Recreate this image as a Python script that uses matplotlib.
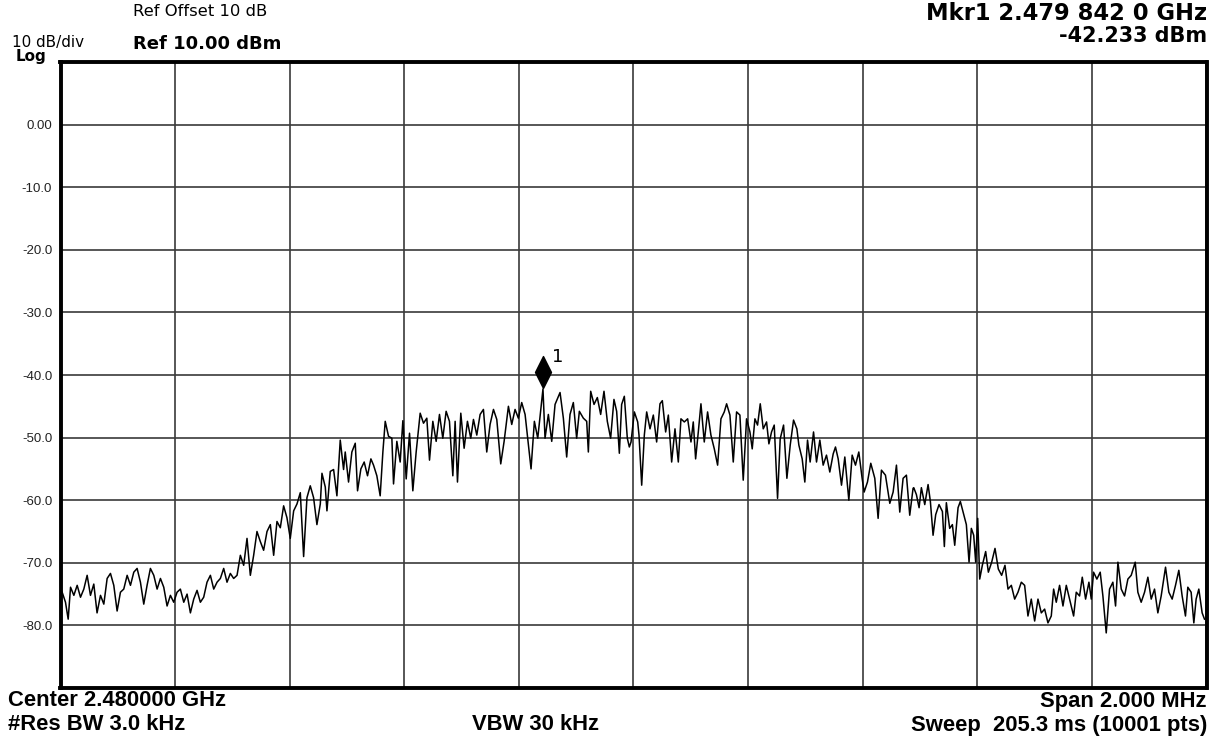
import numpy as np
import matplotlib
matplotlib.use("Agg")
import matplotlib.pyplot as plt
from matplotlib import font_manager
from matplotlib.path import Path
from matplotlib.transforms import offset_copy

# ---------------- data ----------------
center_ghz = 2.480
span_mhz = 2.0
ref_level = 10.0
db_per_div = 10.0

# sweep section 1 : offsets from centre in kHz, level in dBm
sec1_khz = [-997.1,-991.3,-986.6,-982.5,-976.7,-970.9,-965.1,-959.3,-953.5,-947.7,
            -941.9,-936.2,-930.2,-924.4,-918.6,-912.8,-907.0,-901.2,-895.4,-889.6,
            -883.7,-877.9,-872.1,-866.3,-860.5,-854.7,-848.9,-843.1,-837.2,-831.4,
            -825.6,-819.8,-814.0,-808.2,-802.4,-796.6,-790.8,-784.9,-779.1,-773.3,
            -767.5,-761.7,-755.9,-750.1,-744.3,-738.4,-732.6,-726.8,-721.0,-715.2,
            -709.4,-703.6,-697.8,-691.9,-686.1,-680.3,-674.5,-668.7,-662.9,-657.1,
            -651.3,-645.5,-639.6,-633.8,-628.0,-622.2,-616.4,-610.6,-604.8,-599.0,
            -593.1,-587.3,-581.5,-575.7,-569.9,-564.1,-558.3,-552.5,-546.6,-543.7,
            -537.9,-535.0,-529.2,-523.4,-517.6,-511.8,-506.0]
sec1_dbm = [-74.7,-76.3,-79.0,-73.9,-75.2,-73.6,-75.5,-74.2,-72.0,-75.2,
            -73.4,-78.0,-75.2,-76.6,-72.5,-71.7,-73.6,-77.7,-74.7,-74.2,
            -72.0,-73.6,-71.5,-70.9,-73.1,-76.6,-73.6,-70.9,-72.0,-74.2,
            -72.5,-73.9,-76.9,-75.2,-76.3,-74.7,-74.2,-76.3,-75.0,-78.0,
            -75.8,-74.4,-76.3,-75.5,-73.1,-72.0,-74.2,-73.1,-72.5,-70.9,
            -73.1,-71.7,-72.5,-72.0,-68.8,-70.4,-66.1,-72.0,-68.8,-65.0,
            -66.6,-68.0,-65.0,-63.9,-68.8,-63.4,-64.4,-60.9,-62.8,-66.1,
            -61.7,-60.6,-58.8,-69.0,-59.6,-57.7,-59.6,-63.9,-60.6,-55.7,
            -57.9,-61.7,-55.4,-55.1,-59.3,-50.4,-55.1]

sec2_khz = [-503.1,-497.3,-491.5,-485.6,-481.6,-475.8,-470.0,-464.2,-458.3,-453.7,
            -447.9,-442.1,-437.4,-433.3,-427.5,-421.7,-418.8,-413.0,-407.2,-402.5,
            -396.7,-390.9,-385.1,-379.3,-372.3,-366.5,-360.7,-356.0,-350.2,-344.4,
            -338.6,-332.8,-327.0,-321.2,-315.3,-311.3,-307.2,-301.4,-295.6,-289.8,
            -284.0,-279.3,-273.5,-267.7,-261.9,-256.1,-250.3,-244.4,-238.6,-231.7,
            -225.8,-218.3,-212.5,-206.7,-200.9,-195.1,-189.2,-183.4,-178.8,-173.0,
            -167.1,-158.0,-154.4,-148.6,-142.7,-136.9,-128.2,-122.4,-116.6,-110.8,
            -105.0,-99.2,-94.5,-87.5,-81.7,-78.8,-74.7,-68.9,-63.1,-57.3,
            -51.5,-45.7,-39.9,-34.1,-29.4,-24.7,-20.7,-16.0,-10.8,-7.3]
sec2_dbm = [-52.3,-57.1,-52.3,-50.9,-58.5,-55.0,-53.9,-56.1,-53.4,-54.4,
            -56.1,-59.3,-52.3,-47.4,-49.8,-50.1,-57.4,-50.6,-53.9,-47.3,
            -56.6,-49.3,-58.5,-52.3,-46.1,-47.7,-46.9,-53.6,-47.4,-50.6,
            -46.3,-50.1,-45.8,-47.4,-56.1,-47.4,-57.1,-46.1,-51.7,-47.4,
            -50.1,-47.1,-49.6,-46.3,-45.5,-52.3,-47.9,-45.5,-47.1,-54.2,
            -50.6,-45.0,-47.9,-45.5,-46.9,-44.4,-46.3,-51.2,-55.0,-47.4,
            -50.1,-42.233,-50.1,-46.3,-50.6,-44.7,-42.8,-46.9,-53.1,-46.3,
            -44.4,-50.1,-45.8,-46.9,-47.4,-52.3,-42.6,-44.7,-43.6,-46.3,
            -42.6,-47.4,-50.1,-43.9,-45.8,-52.5,-44.7,-43.4,-50.1,-51.5]

sec3_khz = [-4.3,1.5,7.3,9.6,14.3,18.9,23.0,28.8,34.6,40.4,
            46.2,50.3,56.1,60.8,66.6,72.4,78.2,82.8,88.7,94.5,
            100.3,104.3,108.4,113.1,117.7,123.5,129.3,135.1,141.0,146.8,
            152.6,158.4,162.5,168.3,174.1,179.9,185.7,191.5,197.3,203.2,
            207.2,211.9,216.5,221.2,226.4,232.2,236.3,240.9,245.6,251.4,
            256.0,261.9,267.7,273.5,279.3,285.1,288.6,294.4,299.0,303.7,
            308.3,314.2,319.4,325.2,331.0,336.8,342.6,348.5,352.5,357.2,
            363.0,368.8,375.8,381.6,387.4,393.2,399.0,402.5,408.3,414.1,
            421.1,426.9,432.7,439.7,447.3,453.1,458.9,464.7,470.5,476.3,
            482.1,487.9]
sec3_dbm = [-50.7,-45.9,-47.5,-49.6,-57.6,-49.6,-45.9,-48.6,-46.4,-50.7,
            -44.6,-44.1,-49.1,-46.4,-53.9,-48.6,-53.9,-47.0,-47.5,-47.0,
            -50.7,-47.5,-53.4,-49.1,-44.6,-50.7,-45.9,-49.6,-51.8,-54.4,
            -47.0,-45.9,-44.6,-46.4,-53.9,-45.9,-46.4,-56.8,-47.0,-49.1,
            -51.8,-47.0,-48.0,-44.6,-48.6,-47.5,-51.0,-49.1,-48.0,-59.7,
            -50.2,-48.0,-56.5,-51.2,-47.2,-48.6,-51.2,-53.4,-57.1,-50.4,
            -53.9,-49.1,-53.9,-50.4,-54.4,-52.8,-55.5,-52.6,-51.5,-53.4,
            -57.6,-53.1,-60.0,-52.8,-54.4,-52.3,-56.5,-58.7,-57.1,-54.1,
            -56.5,-62.9,-55.2,-56.0,-60.5,-58.7,-54.4,-61.9,-56.5,-56.0,
            -62.4,-58.1]

sec4_khz = [489.1,493.7,498.4,502.4,508.3,514.1,518.1,522.8,527.4,533.2,
            539.1,542.5,546.0,551.8,556.5,560.6,566.4,570.4,576.3,580.9,
            585.6,589.6,593.7,597.2,600.7,604.2,608.8,614.6,619.3,625.1,
            630.9,636.7,642.5,648.3,653.6,659.4,665.2,671.0,676.8,682.6,
            688.4,694.2,700.1,705.9,711.7,717.5,723.3,729.1,733.2,737.8,
            743.6,749.5,755.3,761.1,768.1,772.7,778.5,783.2,789.0,794.8,
            798.9,802.9,808.7,814.5,819.2,825.0,830.8,836.6,841.3,845.4,
            851.2,857.0,862.8,868.6,875.6,880.2,886.0,891.9,897.7,903.5,
            909.3,915.1,920.9,928.5,934.3,940.1,945.9,951.7,957.5,963.3,
            967.4,973.2,977.9,981.9,986.6,992.4,996.5]
sec4_dbm = [-58.0,-59.1,-61.2,-58.0,-60.7,-57.5,-60.2,-65.6,-62.3,-60.7,
            -61.8,-67.4,-60.4,-64.5,-63.9,-67.2,-61.2,-60.2,-62.3,-63.9,
            -69.9,-64.5,-65.6,-69.9,-62.9,-72.6,-70.4,-68.2,-71.5,-69.9,
            -67.7,-71.0,-72.0,-70.4,-74.2,-73.6,-75.8,-74.7,-73.1,-73.6,
            -78.5,-75.8,-79.3,-75.8,-78.0,-77.4,-79.6,-78.5,-74.2,-76.3,
            -73.6,-76.9,-73.6,-75.8,-78.5,-74.7,-75.3,-72.3,-75.8,-73.1,
            -75.8,-71.5,-72.6,-71.5,-75.3,-81.2,-74.2,-73.1,-76.9,-69.9,
            -74.2,-75.3,-72.6,-72.0,-69.9,-74.7,-76.3,-74.7,-72.3,-75.8,
            -74.2,-78.0,-75.3,-70.7,-74.7,-75.8,-73.6,-71.2,-75.3,-78.5,
            -73.9,-74.7,-79.6,-75.8,-74.2,-78.0,-79.0]

marker_khz = -158.0
marker_dbm = -42.233
ytick_vals = [10, 0, -10, -20, -30, -40, -50, -60, -70, -80, -90]
ytick_text = ["", "0.00", "-10.0", "-20.0", "-30.0", "-40.0", "-50.0",
              "-60.0", "-70.0", "-80.0", ""]

# ---------------- figure ----------------
W, H = 1211, 739
fig = plt.figure(figsize=(W / 100, H / 100), dpi=100)
fig.patch.set_facecolor("white")

installed = {f.name for f in font_manager.fontManager.ttflist}
base_font = "Liberation Sans" if "Liberation Sans" in installed else "DejaVu Sans"
head_font = "DejaVu Sans"
plt.rcParams["font.family"] = [base_font, "DejaVu Sans"]

L, R, T, B = 60.5, 1206.5, 62, 688
ax = fig.add_axes([L / W, 1 - B / H, (R - L) / W, (B - T) / H])

khz = np.array(sec1_khz + sec2_khz + sec3_khz + sec4_khz)
dbm = np.array(sec1_dbm + sec2_dbm + sec3_dbm + sec4_dbm)
freq_ghz = center_ghz + khz / 1e6

ax.plot(freq_ghz, dbm, color="black", lw=1.1, zorder=3)

f_lo = center_ghz - span_mhz / 2000
f_hi = center_ghz + span_mhz / 2000
ax.set_xlim(f_lo, f_hi)
ax.set_ylim(ref_level - 10 * db_per_div, ref_level)
ax.set_xticks(np.linspace(f_lo, f_hi, 11))
ax.set_xticklabels([])
ax.set_yticks(ytick_vals)
ax.set_yticklabels(ytick_text)
ax.tick_params(axis="both", length=0)
ax.tick_params(axis="y", pad=6, labelsize=9.5, labelcolor="#222222")
ax.grid(True, color="#3a3a3a", lw=1.2, zorder=1)
for s in ax.spines.values():
    s.set_linewidth(2.8)
    s.set_color("black")
    s.set_zorder(5)

# marker diamond
mk_x = center_ghz + marker_khz / 1e6
diamond = Path([(0, 1), (0.5, 0), (0, -1), (-0.5, 0), (0, 1)],
               [Path.MOVETO, Path.LINETO, Path.LINETO, Path.LINETO, Path.CLOSEPOLY])
tr = offset_copy(ax.transData, fig=fig, x=0, y=17, units="dots")
ax.plot([mk_x], [marker_dbm], marker=diamond, markersize=23, color="black",
        transform=tr, zorder=6, clip_on=False)
tr2 = offset_copy(ax.transData, fig=fig, x=15, y=32, units="dots")
ax.text(mk_x, marker_dbm, "1", transform=tr2, fontsize=13, ha="center",
        va="center", color="black", family=[head_font])

# ---------------- header / footer texts ----------------
renderer = fig.canvas.get_renderer()

def fit_size(s, width, **kw):
    t = fig.text(0, 0, s, fontsize=12, **kw)
    w = t.get_window_extent(renderer=renderer).width
    t.remove()
    return 12 * width / w

def ftext(x, y, s, size, **kw):
    return fig.text(x / W, 1 - y / H, s, fontsize=size, **kw)

hf = dict(family=[head_font])
small_sz = fit_size("Ref Offset 10 dB", 134, **hf)
ref_sz = fit_size("Ref 10.00 dBm", 148, fontweight="bold", **hf)
mkr_sz = fit_size("Mkr1 2.479 842 0 GHz", 281, fontweight="bold", **hf)
amp_sz = fit_size("-42.233 dBm", 148, fontweight="bold", **hf)

ftext(133, 12, "Ref Offset 10 dB", small_sz, ha="left", va="center", **hf)
ftext(12, 43, "10 dB/div", small_sz * 0.92, ha="left", va="center", **hf)
ftext(133, 44, "Ref 10.00 dBm", ref_sz, fontweight="bold", ha="left", va="center", **hf)
ftext(16, 56, "Log", small_sz * 0.92, fontweight="bold", ha="left", va="center", **hf)
ftext(1207, 13, "Mkr1 2.479 842 0 GHz", mkr_sz, fontweight="bold",
      ha="right", va="center", **hf)
ftext(1207, 36, "-42.233 dBm", amp_sz, fontweight="bold", ha="right", va="center", **hf)

bot = dict(fontweight="bold", va="center", family=[base_font])
bot_sz = fit_size("Center 2.480000 GHz", 216, **bot)
ftext(8, 701, "Center 2.480000 GHz", bot_sz, ha="left", **bot)
ftext(1207, 701, "Span 2.000 MHz", bot_sz, ha="right", **bot)
ftext(8, 725, "#Res BW 3.0 kHz", bot_sz, ha="left", **bot)
ftext(472, 725, "VBW 30 kHz", bot_sz, ha="left", **bot)
ftext(1207, 725, "Sweep  205.3 ms (10001 pts)", bot_sz, ha="right", **bot)

fig.savefig("out.png", dpi=100, facecolor="white")
